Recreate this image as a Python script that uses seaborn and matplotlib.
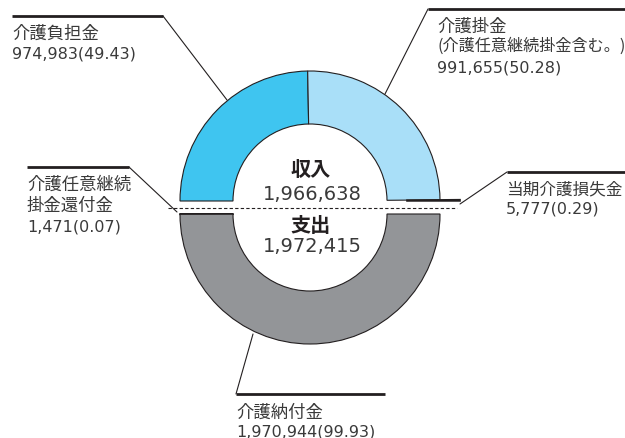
import matplotlib
matplotlib.use("Agg")
import matplotlib.pyplot as plt
import seaborn as sns

# ---- data ----
income_names = ["介護負担金", "介護掛金\n(介護任意継続掛金含む。)", "当期介護損失金"]
income_values = [974983, 991655, 5777]
income_pcts = [49.43, 50.28, 0.29]
expense_names = ["介護任意継続\n掛金還付金", "介護納付金"]
expense_values = [1471, 1970944]
expense_pcts = [0.07, 99.93]
center_titles = ["収入", "支出"]
center_totals = [1966638, 1972415]

income_colors = ["#3fc5f0", "#a9dff8", "#2a7890"]
expense_colors = ["#5d5e60", "#939598"]

sns.set_theme(style="white")
plt.rcParams["font.family"] = ["DejaVu Sans", "Noto Sans CJK JP"]
CJK = ["Noto Sans CJK JP", "DejaVu Sans"]

W, H = 625, 439
fig = plt.figure(figsize=(W / 100, H / 100), dpi=100)
ax = fig.add_axes([0, 0, 1, 1])

R, RW = 130, 53
edge = dict(width=RW, edgecolor="#231f20", linewidth=0.8)

# top half (income + loss to balance)
top_vals = income_values + [sum(income_values)]
top_w, _ = ax.pie(top_vals, colors=sns.color_palette(income_colors) + [(1, 1, 1)],
                  startangle=180, counterclock=False, radius=R,
                  center=(310, H - 202), explode=[0, 0, 20, 0],
                  wedgeprops=edge)
top_w[-1].set_visible(False)
top_w[2].set_linewidth(1.2)

# bottom half (expenditure)
bot_vals = expense_values + [sum(expense_values)]
bot_w, _ = ax.pie(bot_vals, colors=sns.color_palette(expense_colors) + [(1, 1, 1)],
                  startangle=180, counterclock=True, radius=R,
                  center=(310, H - 215), wedgeprops=edge)
bot_w[-1].set_visible(False)
bot_w[0].set_linewidth(1.2)

ax.set_xlim(0, W)
ax.set_ylim(0, H)
ax.set_aspect("equal")
ax.axis("off")

tc = "#3a3a3a"
# dashed divider
ax.plot([168, 457], [H - 209, H - 209], ls=(0, (3, 2)), color="#231f20", lw=0.8)

# center texts
ax.text(311, H - 170, center_titles[0], ha="center", va="center", fontsize=14.5,
        fontweight="bold", color="#231f20", family=CJK)
ax.text(312, H - 194, f"{center_totals[0]:,}", ha="center", va="center",
        fontsize=14, color=tc)
ax.text(311, H - 226, center_titles[1], ha="center", va="center", fontsize=14.5,
        fontweight="bold", color="#231f20", family=CJK)
ax.text(312, H - 247, f"{center_totals[1]:,}", ha="center", va="center",
        fontsize=14, color=tc)


def label(name, val, pct, tx, ys, thick, thin, sizes=None):
    lines = name.split("\n") + [f"{val:,}({pct:.2f})"]
    for i, (ln, y) in enumerate(zip(lines, ys)):
        last = i == len(lines) - 1
        fs = 11.5 if last else (sizes[i] if sizes else 12.5)
        ax.text(tx, H - y, ln, ha="left", va="center", fontsize=fs, color=tc,
                family=["DejaVu Sans"] if last else CJK)
    ax.plot([thick[0], thick[1]], [H - thick[2], H - thick[2]], color="#231f20",
            lw=2.0, solid_capstyle="butt")
    ax.plot([thin[0], thin[2]], [H - thin[1], H - thin[3]], color="#231f20", lw=0.8)


label(income_names[0], income_values[0], income_pcts[0], 12, (34, 54),
      (12, 163, 17), (163, 17, 227, 101))
label(income_names[1], income_values[1], income_pcts[1], 437, (27, 46, 68),
      (428, 630, 10), (428, 10, 385, 95), sizes=[12.5, 11.6])
label(income_names[2], income_values[2], income_pcts[2], 506, (190, 209),
      (507, 630, 173), (507, 173, 460, 205), sizes=[12.0])
label(expense_names[0], expense_values[0], expense_pcts[0], 27, (185, 206, 227),
      (27, 129, 168), (129, 168, 177, 213))
label(expense_names[1], expense_values[1], expense_pcts[1], 236, (413, 432),
      (236, 385, 395), (236, 395, 253, 335))

fig.savefig("out.png", dpi=100)
